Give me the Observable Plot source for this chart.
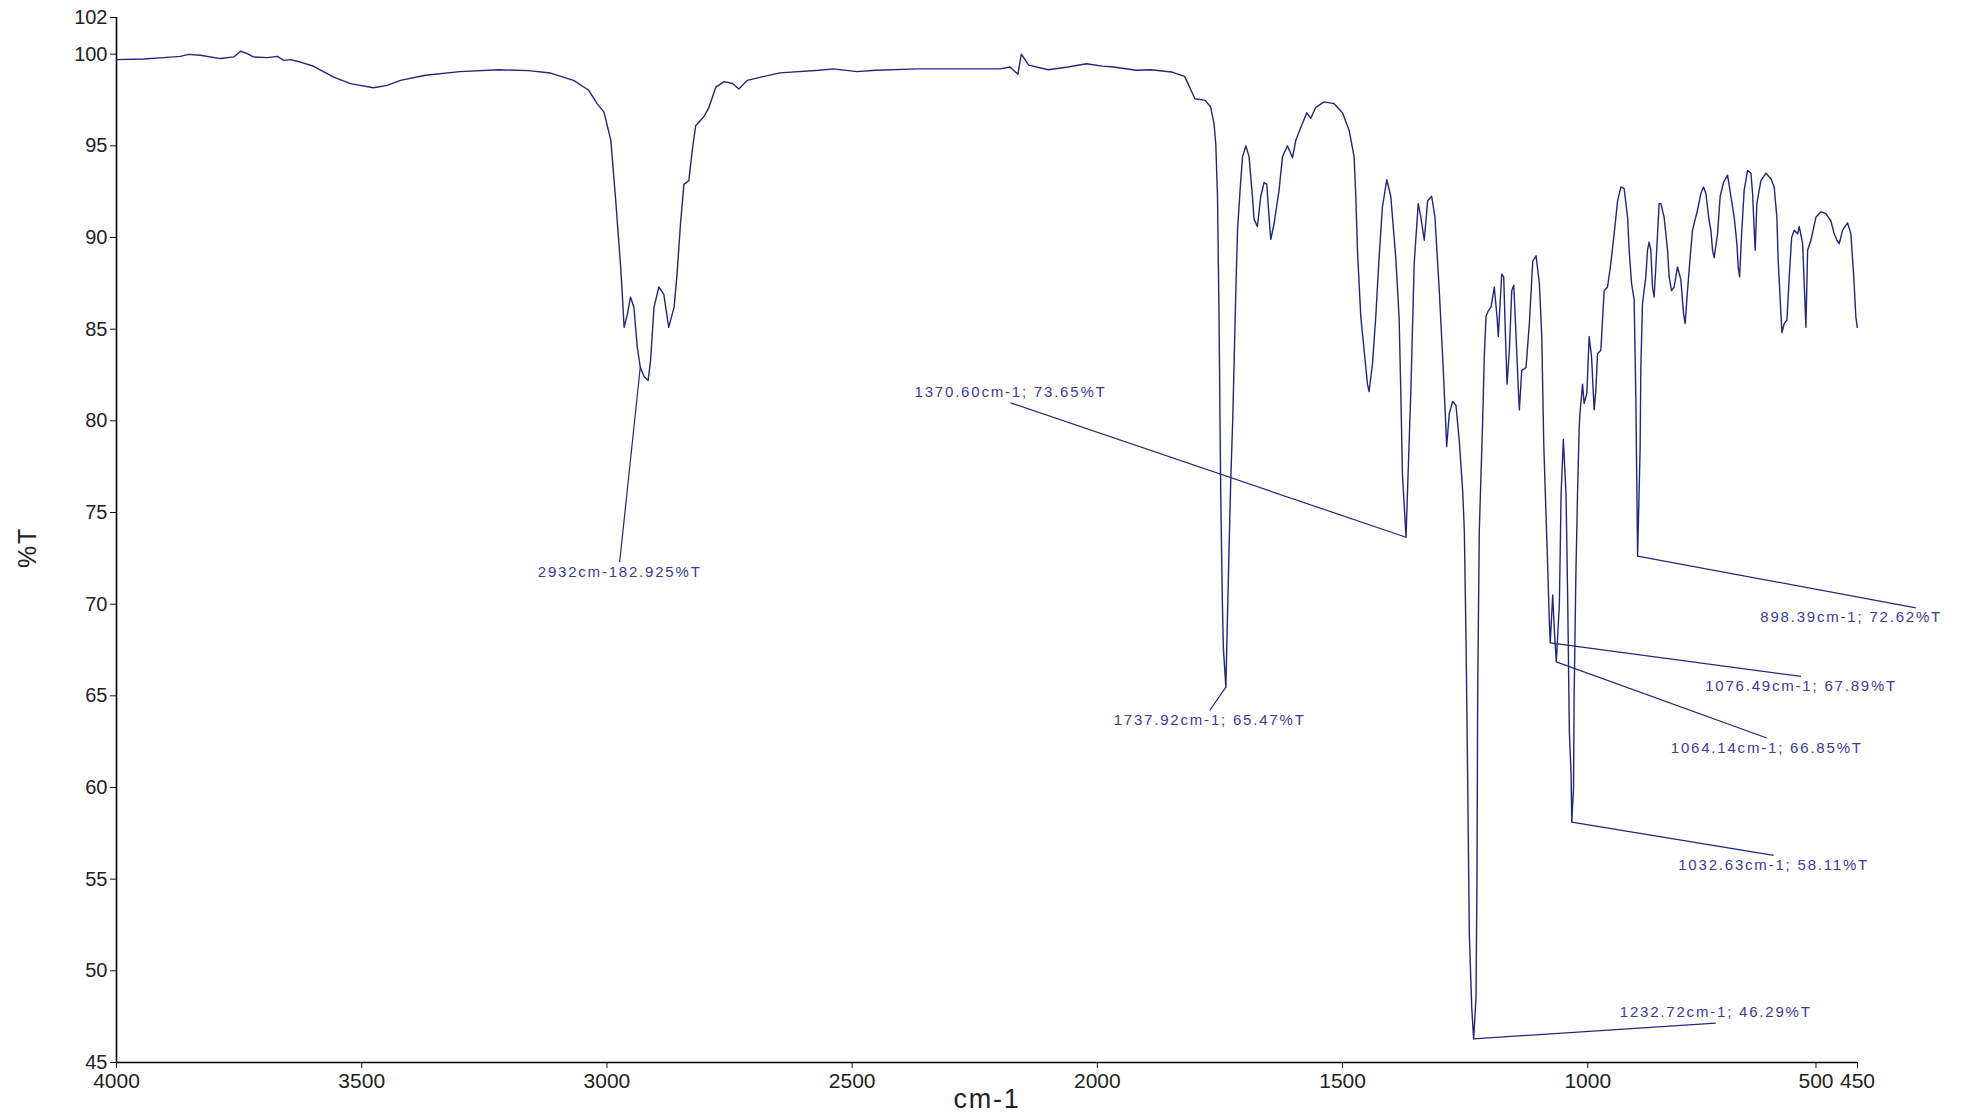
<!DOCTYPE html>
<html>
<head>
<meta charset="utf-8">
<script src="https://cdn.jsdelivr.net/npm/d3@7"></script>
<script src="https://cdn.jsdelivr.net/npm/@observablehq/plot@0.6"></script>
<style>
  html, body { margin: 0; padding: 0; background: #ffffff; }
  #chart svg { display: block; }
</style>
</head>
<body>
<div id="chart"></div>
<script>
// ---- Spectrum ----
const wavenumber = [
  4000, 3944, 3904, 3870, 3853, 3829, 3788, 3761, 3747, 3733, 3721, 3693, 3672, 3659, 3645, 3625, 3598, 3557, 3523, 3476,
  3448, 3421, 3370, 3300, 3220, 3160, 3115, 3068, 3037, 3020, 3006, 2992, 2982, 2972, 2968, 2965, 2958, 2952, 2945, 2938,
  2932, 2924, 2916, 2911, 2904, 2894, 2884, 2874, 2863, 2857, 2850, 2843, 2833, 2826, 2819, 2802, 2792, 2778, 2761, 2744,
  2731, 2714, 2686, 2647, 2568, 2538, 2490, 2452, 2366, 2256, 2198, 2178, 2162, 2155, 2140, 2100, 2060, 2022, 1990, 1967,
  1921, 1891, 1849, 1822, 1801, 1780, 1769, 1762, 1758.5, 1755, 1752, 1748.4, 1745, 1743, 1737.92, 1734.5, 1731, 1728, 1724, 1720.8,
  1717.6, 1714.2, 1708.9, 1704, 1697.2, 1690.6, 1683.8, 1680.5, 1673.6, 1666.8, 1660, 1654.5, 1649.8, 1646.4, 1639.6, 1629.4, 1622.5, 1612.3, 1602.1, 1595.4,
  1585.2, 1572.9, 1564.8, 1554.6, 1537.6, 1517.2, 1500.2, 1486.6, 1476.4, 1473, 1469.6, 1462.8, 1456, 1449.2, 1445.9, 1439, 1432.3, 1425.5, 1418.7, 1409.8,
  1401.7, 1391.5, 1384.7, 1381.3, 1377.9, 1370.6, 1367.5, 1360.7, 1353.9, 1345.7, 1340.2, 1333.4, 1326.5, 1318.3, 1311.6, 1302.8, 1295.9, 1290.6, 1287.7, 1282.4,
  1275.5, 1268.8, 1262, 1255.1, 1251.7, 1248.2, 1244.7, 1241.5, 1236.6, 1232.72, 1227.9, 1225.9, 1224.5, 1221.2, 1214.3, 1211, 1207.5, 1202.8, 1197.3, 1190.6,
  1185.1, 1182.4, 1175.5, 1171.4, 1168.6, 1164.6, 1159.9, 1155, 1150.9, 1146.2, 1141.5, 1139.5, 1134.6, 1125.9, 1119.1, 1112.2, 1105.4, 1098.7, 1093.8, 1089.7,
  1086.5, 1081.6, 1078.3, 1076.49, 1071.5, 1068, 1064.14, 1057.9, 1054.4, 1049.8, 1044.3, 1040.8, 1037.5, 1034, 1032.63, 1029, 1027.8, 1024.3, 1020.9, 1017.6,
  1016.2, 1010.7, 1007.4, 1001.9, 997.2, 992.3, 987, 983.5, 980.1, 973.3, 966.6, 959.7, 952.9, 946.2, 939.2, 932.5, 925.8, 918.8, 915.6, 910.7,
  905.4, 901.9, 898.39, 893.3, 891.8, 888.4, 881.6, 878.2, 874.9, 871.4, 868, 864.7, 861.2, 854.5, 851, 844.3, 837.3, 834.1, 829.2, 823.9,
  817, 810.2, 804.7, 801.5, 796.6, 791.3, 786.4, 776.2, 769.4, 763.9, 759.2, 752.5, 749, 745.5, 742.3, 735.4, 730, 723.1, 715, 708.2,
  701.4, 695.9, 693.3, 690.4, 686.3, 681, 674.1, 667.3, 663.9, 660.6, 658.6, 655.2, 647, 636.8, 626.6, 619.9, 614.4, 611.7, 607.6, 604.1,
  599.4, 593.9, 589.2, 584.3, 579, 572.1, 568.8, 561.9, 558.7, 555.2, 551.7, 545, 534.8, 524.6, 514.4, 504.2, 497.5, 492, 487.3, 480.4,
  470.2, 463.5, 458, 453.3, 450.5
];
const transmittance = [
  99.70, 99.74, 99.81, 99.88, 99.99, 99.94, 99.76, 99.85, 100.16, 100.03, 99.85, 99.81, 99.88, 99.66, 99.70, 99.57, 99.34, 98.75, 98.39, 98.17,
  98.30, 98.57, 98.85, 99.05, 99.15, 99.10, 98.97, 98.57, 98.03, 97.30, 96.84, 95.30, 92.00, 88.40, 86.60, 85.10, 85.85, 86.75, 86.20, 84.00,
  82.93, 82.40, 82.20, 83.30, 86.20, 87.30, 86.90, 85.10, 86.20, 88.00, 90.75, 92.90, 93.10, 94.75, 96.10, 96.60, 97.10, 98.20, 98.50, 98.40,
  98.10, 98.57, 98.75, 98.98, 99.12, 99.20, 99.05, 99.12, 99.20, 99.20, 99.20, 99.30, 98.90, 100.00, 99.40, 99.15, 99.30, 99.48, 99.35, 99.30,
  99.12, 99.15, 99.03, 98.79, 97.57, 97.48, 97.12, 96.20, 95.10, 92.25, 86.00, 76.00, 70.00, 67.60, 65.47, 69.50, 73.50, 76.75, 80.00, 83.50,
  87.10, 90.40, 92.60, 94.40, 95.00, 94.40, 92.25, 91.00, 90.60, 92.25, 93.00, 92.90, 91.10, 89.90, 90.75, 92.60, 94.40, 95.00, 94.35, 95.30,
  96.00, 96.80, 96.50, 97.10, 97.40, 97.30, 96.80, 95.85, 94.40, 92.25, 89.30, 85.67, 83.85, 82.00, 81.60, 83.10, 85.66, 88.90, 91.66, 93.15,
  92.25, 88.90, 85.66, 81.66, 77.10, 73.65, 76.20, 81.66, 88.60, 91.85, 91.10, 89.85, 92.00, 92.25, 91.10, 87.10, 83.50, 80.40, 78.60, 80.40,
  81.05, 80.85, 78.90, 76.20, 74.00, 68.00, 60.00, 52.00, 48.00, 46.29, 48.50, 55.00, 65.00, 74.00, 80.00, 83.50, 85.70, 86.00, 86.20, 87.30,
  85.70, 84.60, 88.00, 87.85, 85.30, 82.00, 83.85, 87.10, 87.40, 84.60, 81.66, 80.60, 82.75, 82.90, 85.30, 88.70, 89.00, 87.50, 84.60, 78.70,
  76.00, 72.00, 69.00, 67.89, 70.50, 68.50, 66.85, 70.00, 76.00, 79.00, 76.00, 70.00, 63.00, 60.70, 58.11, 60.00, 65.00, 71.50, 76.00, 79.50,
  80.30, 82.00, 80.95, 81.50, 84.60, 83.50, 80.60, 81.66, 83.66, 83.85, 87.10, 87.30, 88.60, 90.20, 92.00, 92.76, 92.66, 91.10, 89.30, 87.50,
  86.60, 81.10, 72.62, 78.40, 82.90, 86.40, 87.85, 89.30, 89.75, 89.30, 87.30, 86.75, 88.40, 91.85, 91.85, 91.10, 89.30, 87.85, 87.10, 87.30,
  88.40, 87.70, 85.85, 85.30, 87.10, 88.90, 90.40, 91.50, 92.40, 92.76, 92.40, 90.90, 90.40, 89.30, 88.90, 90.20, 92.25, 93.00, 93.40, 92.25,
  91.10, 89.66, 88.40, 87.85, 90.20, 92.60, 93.66, 93.50, 92.40, 90.40, 89.30, 91.85, 93.10, 93.50, 93.20, 92.76, 91.10, 88.70, 86.60, 84.80,
  85.30, 85.50, 87.85, 90.00, 90.40, 90.20, 90.60, 89.66, 87.50, 85.10, 89.30, 89.85, 91.10, 91.40, 91.30, 90.90, 90.20, 89.85, 89.66, 90.40,
  90.80, 90.20, 88.00, 85.66, 85.10
];

// ---- Axes ----
const xTicks = [4000, 3500, 3000, 2500, 2000, 1500, 1000, 500, 450];
const xTicksCrowded = [500];          // label set to the left of its tick, as in the original
const yTicks = [45, 50, 55, 60, 65, 70, 75, 80, 85, 90, 95, 100, 102];
const xLabel = "cm-1";
const yLabel = "%T";

// ---- Peak annotations (data units) ----
const peakLabels = [
  "2932cm-182.925%T",
  "1370.60cm-1; 73.65%T",
  "1737.92cm-1; 65.47%T",
  "898.39cm-1; 72.62%T",
  "1076.49cm-1; 67.89%T",
  "1064.14cm-1; 66.85%T",
  "1032.63cm-1; 58.11%T",
  "1232.72cm-1; 46.29%T"
];
const peakWn = [2932, 1370.60, 1737.92, 898.39, 1076.49, 1064.14, 1032.63, 1232.72];
const peakT  = [82.925, 73.65, 65.47, 72.62, 67.89, 66.85, 58.11, 46.29];
const leaderWn = [2974, 2177, 1771, 331, 565, 635, 621, 739];
const leaderT  = [72.3, 80.98, 64.2, 69.8, 66.06, 62.7, 56.3, 47.15];
const labelWn  = [2974, 2177, 1771, 463, 565, 635, 621, 739];
const labelSide = ["below", "above", "below", "below", "below", "below", "below", "above"];

// ---- Build tables ----
const spectrum = wavenumber.map((w, i) => ({w, t: transmittance[i]}));
const notes = peakLabels.map((label, i) => ({
  label, pw: peakWn[i], pt: peakT[i], lw: leaderWn[i], lt: leaderT[i], tw: labelWn[i], side: labelSide[i]
}));

const navy = "#25257c";
const annColor = "#3b3b9c";
const tickOpts = {tickSize: 6, fill: "#222", stroke: "#111", tickFormat: d3.format("d"), label: null};

const chart = Plot.plot({
  width: 1961,
  height: 1116,
  marginLeft: 116,
  marginRight: 104,
  marginTop: 17,
  marginBottom: 54,
  style: {fontFamily: "'Liberation Sans', Arial, sans-serif", background: "#ffffff", overflow: "visible"},
  x: {domain: [xTicks[0], xTicks[xTicks.length - 1]]},
  y: {domain: [yTicks[0], yTicks[yTicks.length - 1]]},
  marks: [
    Plot.axisX(xTicks.filter(d => !xTicksCrowded.includes(d)), {...tickOpts, fontSize: 21, tickPadding: 5}),
    Plot.axisX(xTicksCrowded, {...tickOpts, fontSize: 21, tickPadding: 5, dx: -17}),
    Plot.axisY(yTicks, {...tickOpts, fontSize: 20, tickPadding: 3}),
    Plot.ruleX([xTicks[0]], {stroke: "#000", strokeWidth: 1.6}),
    Plot.ruleY([yTicks[0]], {stroke: "#000", strokeWidth: 1.6}),
    Plot.text([xLabel], {frameAnchor: "bottom", dy: 45, fontSize: 27, fill: "#222"}),
    Plot.text([yLabel], {frameAnchor: "left", dx: -89, dy: 28, rotate: -90, fontSize: 25, fill: "#222"}),
    Plot.line(spectrum, {x: "w", y: "t", stroke: navy, strokeWidth: 1.4, curve: "linear"}),
    Plot.link(notes, {x1: "pw", y1: "pt", x2: "lw", y2: "lt", stroke: navy, strokeWidth: 1.2}),
    Plot.text(notes.filter(d => d.side === "below"), {x: "tw", y: "lt", text: "label", lineAnchor: "top", dy: 4, fontSize: 15, fill: annColor}),
    Plot.text(notes.filter(d => d.side === "above"), {x: "tw", y: "lt", text: "label", lineAnchor: "bottom", dy: -6, fontSize: 15, fill: annColor})
  ]
});

d3.select(chart).selectAll("g[aria-label='text'] text").style("letter-spacing", "1.8px");
document.getElementById("chart").appendChild(chart);
</script>
</body>
</html>
